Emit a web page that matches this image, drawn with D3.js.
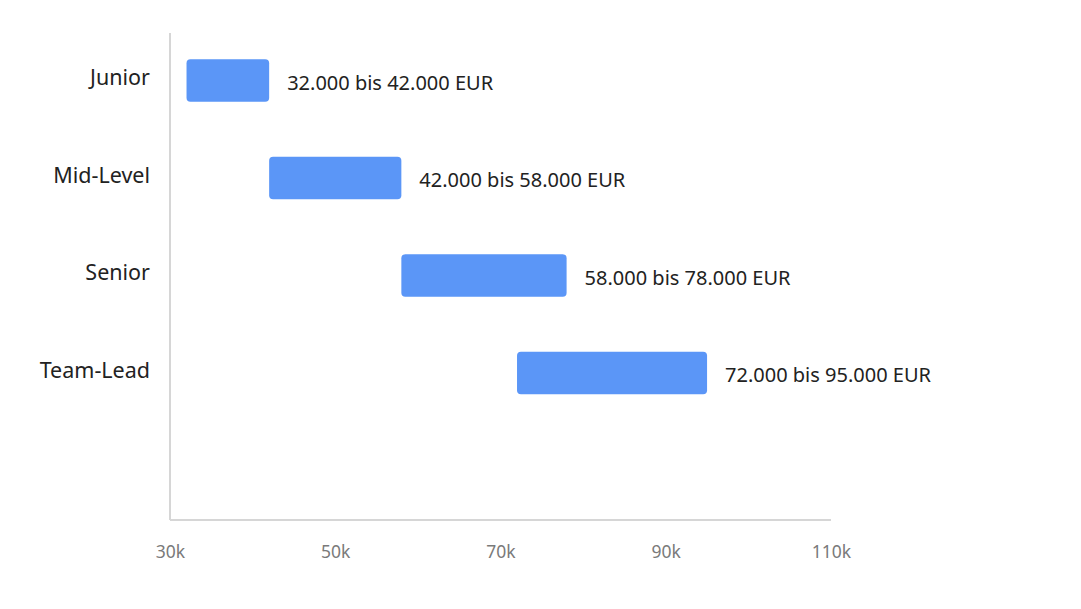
<!DOCTYPE html>
<html><head><meta charset="utf-8">
<script src="https://cdn.jsdelivr.net/npm/d3@7"></script>
<style>body{margin:0;background:#fff}svg{display:block}</style>
</head><body>
<svg id="c" width="1081" height="609"></svg>
<script>
const categories = ["Junior", "Mid-Level", "Senior", "Team-Lead"];
const minValues = [32000, 42000, 58000, 72000];
const maxValues = [42000, 58000, 78000, 95000];
const rangeLabels = ["32.000 bis 42.000 EUR", "42.000 bis 58.000 EUR", "58.000 bis 78.000 EUR", "72.000 bis 95.000 EUR"];
const xTicks = [30000, 50000, 70000, 90000, 110000];
const xTickLabels = ["30k", "50k", "70k", "90k", "110k"];

const svg = d3.select("#c");
const font = "'Noto Sans', 'Open Sans', sans-serif";
const x = d3.scaleLinear().domain([30000, 110000]).range([170, 831]);
const y = d3.scaleBand().domain([...categories, ""]).range([32, 519]).paddingInner(0.565).paddingOuter(0.28);

// axis lines
svg.append("line").attr("x1", 170).attr("x2", 170).attr("y1", 33).attr("y2", 520).attr("stroke", "#d6d6d6").attr("stroke-width", 2);
svg.append("line").attr("x1", 170).attr("x2", 831).attr("y1", 520).attr("y2", 520).attr("stroke", "#d6d6d6").attr("stroke-width", 2);

const xAxis = d3.axisBottom(x).tickValues(xTicks).tickFormat((d, i) => xTickLabels[i]).tickSize(0).tickPadding(26);
const gx = svg.append("g").attr("transform", "translate(0,520)").call(xAxis);
gx.select(".domain").remove();
gx.selectAll("text").attr("font-family", font).attr("font-size", 17.5).attr("fill", "#7a7a7a");

const yAxis = d3.axisLeft(y).tickValues(categories).tickSize(0).tickPadding(20);
const gy = svg.append("g").attr("transform", "translate(170,0)").call(yAxis);
gy.select(".domain").remove();
gy.selectAll("text").attr("font-family", font).attr("font-size", 21.5).attr("fill", "#222").attr("dy", "0.22em");

svg.selectAll("rect.bar").data(categories).join("rect").attr("class", "bar")
  .attr("x", (d, i) => x(minValues[i]))
  .attr("width", (d, i) => x(maxValues[i]) - x(minValues[i]))
  .attr("y", d => y(d))
  .attr("height", y.bandwidth())
  .attr("rx", 4).attr("fill", "#5b96f7");

svg.selectAll("text.lbl").data(categories).join("text").attr("class", "lbl")
  .attr("x", (d, i) => x(maxValues[i]) + 18)
  .attr("y", d => y(d) + y.bandwidth() / 2 + 4)
  .attr("dominant-baseline", "middle")
  .attr("font-family", font).attr("font-size", 20).attr("fill", "#222")
  .text((d, i) => rangeLabels[i]);
</script>
</body></html>
